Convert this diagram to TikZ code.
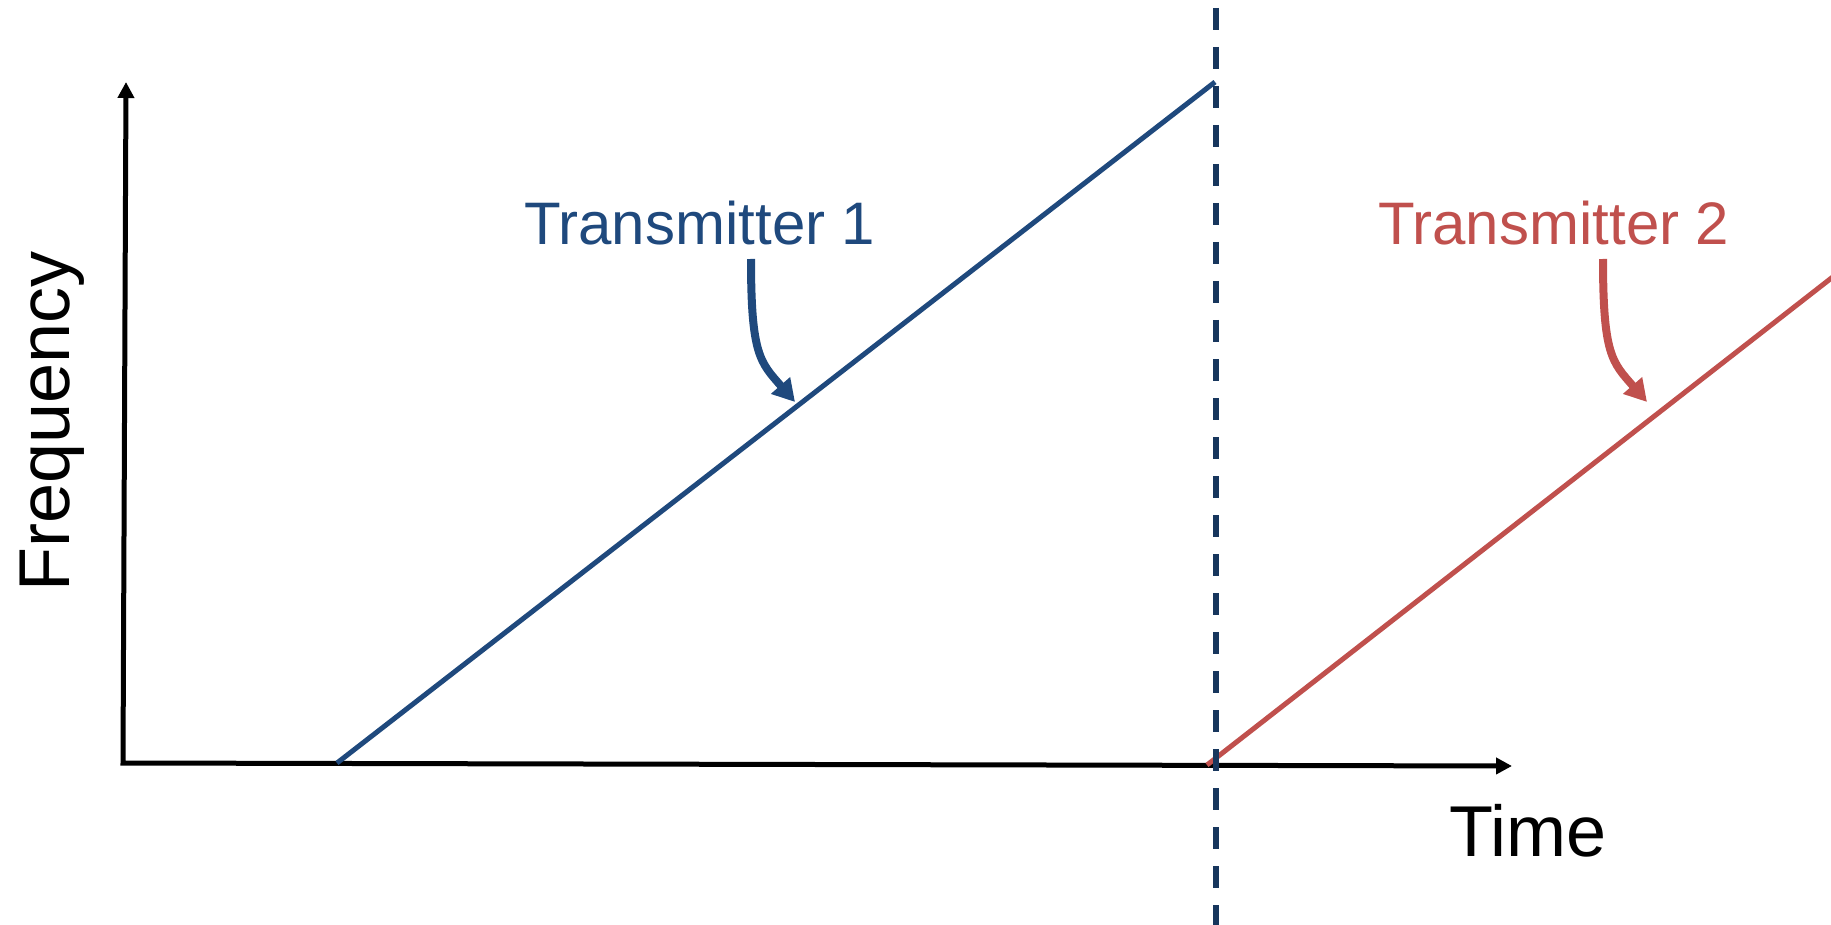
\documentclass[tikz,border=0pt]{standalone}
\usepackage{fontspec}
\setmainfont{Liberation Sans}
\usetikzlibrary{arrows.meta}
\definecolor{tblue}{RGB}{31,73,125}
\definecolor{tred}{RGB}{192,80,77}
\definecolor{dnavy}{RGB}{23,54,93}
\begin{document}
\begin{tikzpicture}[x=1pt,y=-1pt,
  axis/.style={line width=5pt, black, line join=miter},
  ramp/.style={line width=5pt},
  callout/.style={line width=8pt, -{Triangle[length=22pt,width=24pt]}},
  lbl/.style={inner sep=0pt, anchor=base west},
  tlbl/.style={lbl, font=\fontsize{60}{60}\selectfont},
  albl/.style={lbl, font=\fontsize{72}{72}\selectfont}]
\useasboundingbox (0,0) rectangle (1831,925);
% axes
\coordinate (O) at (123,763);
\coordinate (ytop) at (126,82);
\coordinate (xend) at (1512,766);
\draw[axis, {Triangle[length=16pt,width=16pt]}-{Triangle[length=16pt,width=16pt]}] (ytop) -- (O) -- (xend);
% ramps
\coordinate (b0) at (337,763);
\coordinate (b1) at (1215,82);
\draw[ramp, tblue] (b0) -- (b1);
\coordinate (r0) at (1207,765);
\coordinate (r1) at (1834,276);
\draw[ramp, tred] (r0) -- (r1);
% dashed boundary
\coordinate (d0) at (1216,8);
\coordinate (d1) at (1216,935);
\draw[dnavy, line width=5.5pt, dash pattern=on 22pt off 17pt] (d0) -- (d1);
% labels
\node[tlbl, text=tblue] (t1) at (524,245) {Transmitter 1};
\node[tlbl, text=tred] (t2) at (1378,245) {Transmitter 2};
\node[albl] (time) at (1449,856) {Time};
\node[albl, rotate=90] (freq) at (69,592) {Frequency};
% callout arrows
\coordinate (a1s) at (751,259);
\coordinate (a1e) at (795,402);
\draw[callout, tblue] (a1s) .. controls (751,355) and (760,362) .. (a1e);
\coordinate (a2s) at (1603,259);
\coordinate (a2e) at (1647,402);
\draw[callout, tred] (a2s) .. controls (1603,355) and (1612,362) .. (a2e);
\end{tikzpicture}
\end{document}
